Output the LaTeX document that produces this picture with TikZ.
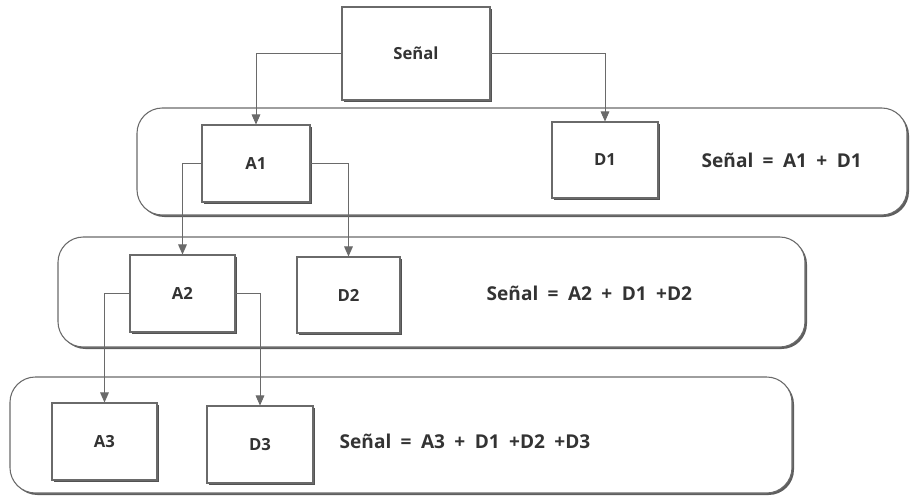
\documentclass[tikz,border=0pt]{standalone}
\usepackage{fontspec}
\setmainfont{Open Sans}
\newfontfamily\eqfont[WordSpace=1.9]{Open Sans}
\usetikzlibrary{shadows,arrows.meta}
\definecolor{edge}{HTML}{6A6A6A}
\definecolor{ink}{HTML}{333333}
\tikzset{
  box/.style={draw=edge, line width=0.8pt, fill=white, rectangle, font=\bfseries\fontsize{12.5}{14}\selectfont, text=ink,
    drop shadow={shadow xshift=1.8pt, shadow yshift=-1.8pt, fill=black!75, opacity=0.9}},
  rowbox/.style={draw=edge, line width=0.8pt, fill=white, rectangle, rounded corners=19pt,
    drop shadow={shadow xshift=1.5pt, shadow yshift=-1.5pt, fill=black!70, opacity=0.9}},
  eq/.style={font=\eqfont\bfseries\fontsize{14.3}{16}\selectfont, text=ink, anchor=west},
  conn/.style={draw=edge, line width=0.7pt, -{Triangle[width=6.5pt,length=7.5pt]}},
}
\begin{document}
\begin{tikzpicture}[x=0.75pt,y=-0.75pt]
\useasboundingbox (0,0) rectangle (911,496);
% rows
\node[rowbox, minimum width=770*0.75pt, minimum height=107*0.75pt] (r1) at (522,161.5) {};
\node[rowbox, minimum width=747*0.75pt, minimum height=110*0.75pt] (r2) at (431.5,292) {};
\node[rowbox, minimum width=782*0.75pt, minimum height=116*0.75pt] (r3) at (401,435) {};
% boxes
\node[box, minimum width=148*0.75pt, minimum height=93*0.75pt] (S) at (416,53.5) {Señal};
\node[box, minimum width=108*0.75pt, minimum height=77*0.75pt] (A1) at (256,163.5) {A1};
\node[box, minimum width=106*0.75pt, minimum height=76*0.75pt] (D1) at (605,160) {D1};
\node[box, minimum width=105*0.75pt, minimum height=77*0.75pt] (A2) at (182.5,293.5) {A2};
\node[box, minimum width=103*0.75pt, minimum height=76*0.75pt] (D2) at (348.5,295) {D2};
\node[box, minimum width=105*0.75pt, minimum height=77*0.75pt] (A3) at (104.5,441.5) {A3};
\node[box, minimum width=106*0.75pt, minimum height=77*0.75pt] (D3) at (260,444.5) {D3};
% equations
\node[eq] (e1) at (697,160) {Señal = A1 + D1};
\node[eq] (e2) at (482,293) {Señal = A2 + D1 +D2};
\node[eq] (e3) at (335,441) {Señal = A3 + D1 +D2 +D3};
% connectors
\draw[conn] (S.west) -| (A1.north);
\draw[conn] (S.east) -| (D1.north);
\draw[conn] (A1.west) -| (A2.north);
\draw[conn] (A1.east) -| (D2.north);
\draw[conn] (A2.west) -| (A3.north);
\draw[conn] (A2.east) -| (D3.north);
\end{tikzpicture}
\end{document}
